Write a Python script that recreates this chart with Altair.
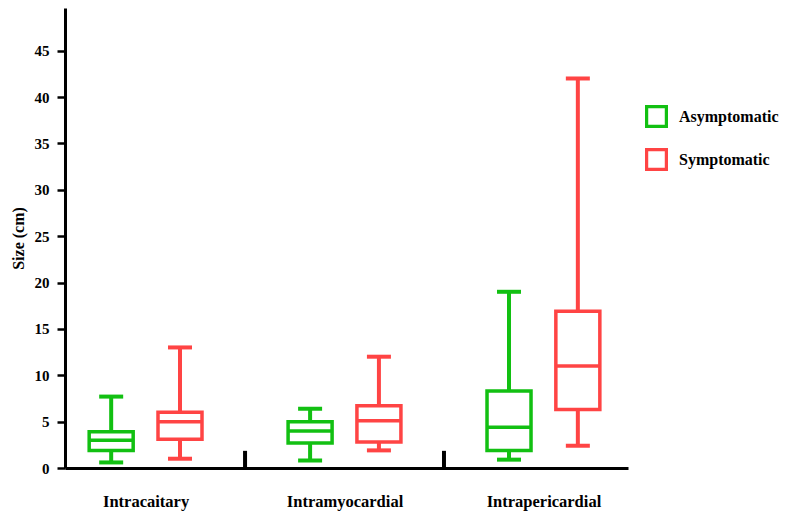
import json
import altair as alt
import pandas as pd

groups = ["Intracaitary", "Intramyocardial", "Intrapericardial"]
series = ["Asymptomatic", "Symptomatic"]
colors = ["#12c012", "#ff4444"]

# order: (group, series) = A1, S1, A2, S2, A3, S3
mins = [0.6, 1.0, 0.8, 1.9, 0.9, 2.4]
q1s = [1.9, 3.1, 2.7, 2.8, 1.9, 6.3]
meds = [3.0, 5.0, 4.0, 5.1, 4.4, 11.0]
q3s = [3.9, 6.0, 5.0, 6.7, 8.3, 16.9]
maxs = [7.7, 13.0, 6.4, 12.0, 19.0, 42.0]

y_ticks = list(range(0, 50, 5))

OFF = 0.173
rows = []
for gi, g in enumerate(groups):
    for si, s in enumerate(series):
        k = gi * 2 + si
        rows.append(dict(group=g, series=s, pos=gi + (-OFF if si == 0 else OFF),
                         lo=mins[k], q1=q1s[k], med=meds[k], q3=q3s[k], hi=maxs[k]))
df = pd.DataFrame(rows)
sep = pd.DataFrame({"pos": [i + 0.5 for i in range(len(groups) - 1)]})
sep["y0"] = 0.0
sep["y1"] = 1.85

FONT = "Liberation Serif"

xscale = alt.Scale(domain=[-0.38, 2.40], nice=False, zero=False)
yscale = alt.Scale(domain=[0, 49.6], nice=False)
cscale = alt.Scale(domain=series, range=colors)

xaxis = alt.Axis(values=list(range(len(groups))),
                 labelExpr=json.dumps(groups) + "[datum.value]",
                 ticks=False, grid=False, title=None, domainWidth=3, domainColor="black",
                 labelFont=FONT, labelFontSize=16.5, labelFontWeight="bold", labelColor="black",
                 labelPadding=25)
yaxis = alt.Axis(values=y_ticks, grid=False, tickSize=8, tickWidth=2.5, tickColor="black",
                 domainWidth=3, domainColor="black", title="Size (cm)",
                 labelFont=FONT, labelFontSize=15, labelFontWeight="bold", labelColor="black",
                 labelPadding=8, titleFont=FONT, titleFontSize=16, titleFontWeight="bold",
                 titleColor="black", titlePadding=8)

base = alt.Chart(df)
X = alt.X("pos:Q", scale=xscale, axis=xaxis)

HOLLOW = "M-1,-1H1V1H-1Z M-0.72,-0.72V0.72H0.72V-0.72Z"
legend = alt.Legend(title=None, orient="none", legendX=580, legendY=97, symbolType=HOLLOW,
                    symbolSize=529, symbolStrokeWidth=0, symbolOpacity=1,
                    labelFont=FONT, labelFontSize=16,
                    labelFontWeight="bold", labelColor="black", labelOffset=11, rowPadding=20,
                    padding=0)

box = base.mark_bar(filled=False, strokeWidth=3.5, size=44, opacity=1).encode(
    x=X, y=alt.Y("q1:Q", scale=yscale, axis=yaxis), y2="q3:Q",
    stroke=alt.Stroke("series:N", scale=cscale, legend=legend))
C = alt.Color("series:N", scale=cscale, legend=None)
wlo = base.mark_rule(strokeWidth=4, opacity=1).encode(x="pos:Q", y="lo:Q", y2="q1:Q", color=C)
whi = base.mark_rule(strokeWidth=4, opacity=1).encode(x="pos:Q", y="q3:Q", y2="hi:Q", color=C)
med = base.mark_tick(orient="horizontal", size=44, thickness=3.5, opacity=1).encode(
    x="pos:Q", y="med:Q", color=C)
caplo = base.mark_tick(orient="horizontal", size=24, thickness=4, opacity=1).encode(
    x="pos:Q", y="lo:Q", color=C)
caphi = base.mark_tick(orient="horizontal", size=24, thickness=4, opacity=1).encode(
    x="pos:Q", y="hi:Q", color=C)
seps = alt.Chart(sep).mark_rule(strokeWidth=4, color="black").encode(
    x="pos:Q", y="y0:Q", y2="y1:Q")

chart = alt.layer(box, wlo, whi, med, caplo, caphi, seps).properties(
    width=563, height=460,
    autosize=alt.AutoSizeParams(type="none"),
    padding={"left": 57, "top": 0, "right": 151, "bottom": 46},
).configure_view(stroke=None)

chart.save("out.html", embed_options={"renderer": "svg", "actions": False})
